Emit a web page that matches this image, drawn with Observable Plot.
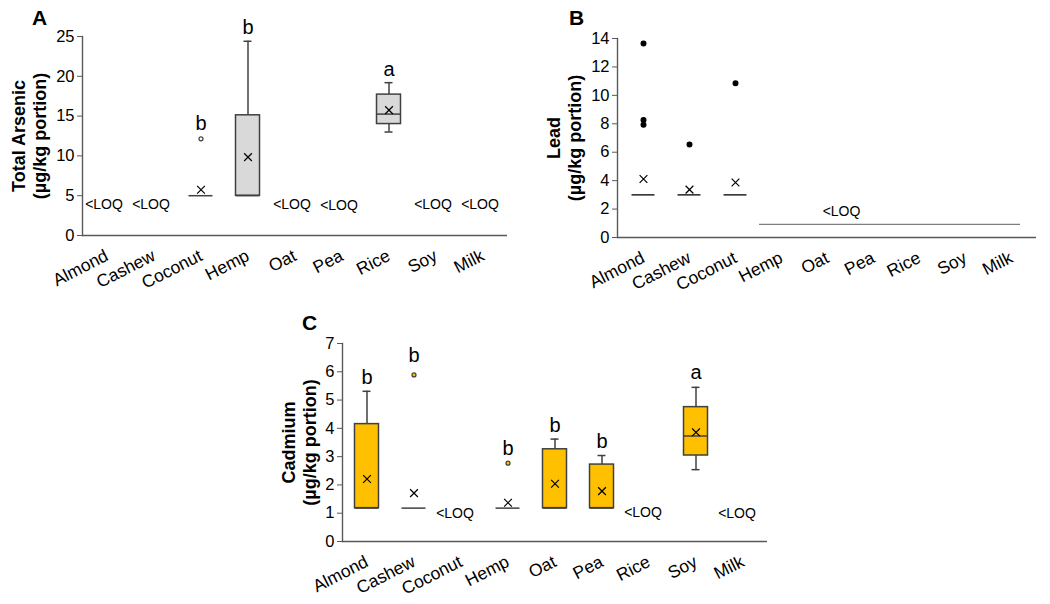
<!DOCTYPE html>
<html><head><meta charset="utf-8">
<script src="https://cdn.jsdelivr.net/npm/d3@7"></script>
<script src="https://cdn.jsdelivr.net/npm/@observablehq/plot@0.6"></script>
<style>
body{margin:0;background:#fff;}
#root{position:relative;width:1050px;height:604px;font-family:"Liberation Sans",Arial,sans-serif;overflow:hidden;}
#root svg{position:absolute;overflow:visible;}
</style></head><body><div id="root"></div>
<script>
const categories = ["Almond","Cashew","Coconut","Hemp","Oat","Pea","Rice","Soy","Milk"];

// Panel A — Total Arsenic (µg/kg portion)
const arsenicStats = [
  {cat:"Coconut", min:5,  q1:5,  median:5,     q3:5,    max:5,    mean:5.75},
  {cat:"Hemp",    min:5,  q1:5,  median:5,     q3:15.1, max:24.4, mean:9.85},
  {cat:"Rice",    min:13, q1:14, median:15.25, q3:17.7, max:19.2, mean:15.75}
];
const arsenicOutliers = [{cat:"Coconut", v:12.15}];
const arsenicLetters = [
  {cat:"Coconut", v:14.0, label:"b"},
  {cat:"Hemp",    v:26.1, label:"b"},
  {cat:"Rice",    v:20.8, label:"a"}
];
const arsenicLOQ = [
  {cat:"Almond", v:3.9},{cat:"Cashew", v:3.9},{cat:"Oat", v:3.85},
  {cat:"Pea", v:3.8},{cat:"Soy", v:3.85},{cat:"Milk", v:3.85}
];
const arsenicTicks = [0,5,10,15,20,25];

// Panel B — Lead (µg/kg portion)
const leadStats = [
  {cat:"Almond",  min:3, q1:3, median:3, q3:3, max:3, mean:4.12},
  {cat:"Cashew",  min:3, q1:3, median:3, q3:3, max:3, mean:3.37},
  {cat:"Coconut", min:3, q1:3, median:3, q3:3, max:3, mean:3.87}
];
const leadOutliers = [
  {cat:"Almond", v:13.64},{cat:"Almond", v:8.27},{cat:"Almond", v:7.93},
  {cat:"Cashew", v:6.55},{cat:"Coconut", v:10.85}
];
const leadLOQ = [{from:"Hemp", to:"Milk", mid:"Oat", v:0.92}];
const leadTicks = [0,2,4,6,8,10,12,14];

// Panel C — Cadmium (µg/kg portion)
const cadmiumStats = [
  {cat:"Almond", min:1.18, q1:1.18, median:1.18, q3:4.15, max:5.31, mean:2.21},
  {cat:"Cashew", min:1.18, q1:1.18, median:1.18, q3:1.18, max:1.18, mean:1.71},
  {cat:"Hemp",   min:1.18, q1:1.18, median:1.18, q3:1.18, max:1.18, mean:1.37},
  {cat:"Oat",    min:1.18, q1:1.18, median:1.18, q3:3.26, max:3.62, mean:2.04},
  {cat:"Pea",    min:1.18, q1:1.18, median:1.18, q3:2.72, max:3.04, mean:1.78},
  {cat:"Soy",    min:2.54, q1:3.04, median:3.73, q3:4.75, max:5.45, mean:3.86}
];
const cadmiumOutliers = [{cat:"Cashew", v:5.89},{cat:"Hemp", v:2.77}];
const cadmiumLetters = [
  {cat:"Almond", v:5.8, label:"b"},{cat:"Cashew", v:6.57, label:"b"},
  {cat:"Hemp", v:3.3, label:"b"},{cat:"Oat", v:4.1, label:"b"},
  {cat:"Pea", v:3.53, label:"b"},{cat:"Soy", v:5.98, label:"a"}
];
const cadmiumLOQ = [{cat:"Coconut", v:0.99},{cat:"Rice", v:1.02},{cat:"Milk", v:0.99}];
const cadmiumTicks = [0,1,2,3,4,5,6,7];

const AX = "#595959", BOX = "#404040";

function panel(o) {
  const boxInset = 11.5, capInset = 19.5;
  const marks = [
    Plot.frame({anchor:"left", stroke:AX, strokeWidth:1.4}),
    Plot.ruleY([0], {stroke:AX, strokeWidth:1.4}),
    Plot.axisY(o.ticks, {tickSize:5, tickPadding:3, fontSize:16.5, stroke:AX, label:null}),
    Plot.axisX({tickSize:0, tickPadding:19, tickRotate:-27, fontSize:17.5, label:null}),
    Plot.text([o.label], {frameAnchor:"left", rotate:-90, dx:o.labelDx, textAnchor:"middle",
      fontWeight:"bold", fontSize:18, lineHeight:1.16})
  ];
  const st = o.stats || [];
  marks.push(
    Plot.ruleX(st.filter(d => d.max > d.q3), {x:"cat", y1:"q3", y2:"max", stroke:BOX, strokeWidth:1.5}),
    Plot.ruleX(st.filter(d => d.min < d.q1), {x:"cat", y1:"min", y2:"q1", stroke:BOX, strokeWidth:1.5}),
    Plot.tickY(st.filter(d => d.max > d.q3), {x:"cat", y:"max", stroke:BOX, strokeWidth:1.5, insetLeft:capInset, insetRight:capInset}),
    Plot.tickY(st.filter(d => d.min < d.q1), {x:"cat", y:"min", stroke:BOX, strokeWidth:1.5, insetLeft:capInset, insetRight:capInset}),
    Plot.barY(st.filter(d => d.q3 > d.q1), {x:"cat", y1:"q1", y2:"q3", fill:o.fill, stroke:BOX, strokeWidth:1.5, insetLeft:boxInset, insetRight:boxInset}),
    Plot.tickY(st, {x:"cat", y:"median", stroke:o.medianStroke || BOX, strokeWidth:1.5, insetLeft:boxInset, insetRight:boxInset}),
    Plot.dot(st, {x:"cat", y:"mean", symbol:"times", r:3.6, stroke:"#000", strokeWidth:1.2}),
    Plot.dot(o.outliers, {x:"cat", y:"v", r:o.outlierR, fill:o.outlierFill, stroke:o.outlierStroke, strokeWidth:1.2})
  );
  if (o.letters) marks.push(Plot.text(o.letters, {x:"cat", y:"v", text:"label", fontSize:20}));
  if (o.loq) marks.push(Plot.text(o.loq, {x:"cat", y:"v", text:() => "<LOQ", fontSize:14, dx:o.loqDx}));
  if (o.loqSpan) marks.push(
    Plot.ruleY(o.loqSpan, {x1:"from", x2:"to", y:"v", stroke:"#7f7f7f", strokeWidth:1.3, insetLeft:1, insetRight:14}),
    Plot.text(o.loqSpan, {x:"mid", y:"v", text:() => "<LOQ", fontSize:14, dx:14, dy:-13})
  );
  const svg = Plot.plot({
    width:o.width, height:o.height,
    marginLeft:o.m[3], marginRight:o.m[1], marginTop:o.m[0], marginBottom:o.m[2],
    x:{type:"band", domain:categories, padding:0},
    y:{domain:[0, o.yMax]},
    style:{fontFamily:"'Liberation Sans', Arial, sans-serif", fontSize:"16px", background:"transparent", color:"#000", overflow:"visible"},
    marks
  });
  svg.style.left = o.left + "px";
  svg.style.top = o.top + "px";
  return svg;
}

const root = document.getElementById("root");
root.append(panel({
  left:0, top:0, width:520, height:300, m:[36,13,65,82], yMax:25, ticks:arsenicTicks,
  label:"Total Arsenic\n(µg/kg portion)", labelDx:-54,
  stats:arsenicStats, fill:"#d9d9d9",
  outliers:arsenicOutliers, outlierR:2, outlierFill:"#fff", outlierStroke:BOX,
  letters:arsenicLetters, loq:arsenicLOQ, loqDx:-3
}));
root.append(panel({
  left:520, top:0, width:530, height:300, m:[38,14,63,97], yMax:14, ticks:leadTicks,
  label:"Lead\n(µg/kg portion)", labelDx:-54,
  stats:leadStats, fill:"#d9d9d9", medianStroke:"#222",
  outliers:leadOutliers, outlierR:2.4, outlierFill:"#000", outlierStroke:"#000",
  loqSpan:leadLOQ
}));
root.append(panel({
  left:270, top:300, width:500, height:304, m:[43,3,63,72], yMax:7, ticks:cadmiumTicks,
  label:"Cadmium\n(µg/kg portion)", labelDx:-44,
  stats:cadmiumStats, fill:"#ffc000",
  outliers:cadmiumOutliers, outlierR:2, outlierFill:"#ffc000", outlierStroke:BOX,
  letters:cadmiumLetters, loq:cadmiumLOQ, loqDx:-6
}));

// panel letters
const panelLetters = [{t:"A", x:32, y:25},{t:"B", x:569, y:25},{t:"C", x:302, y:330}];
const ov = d3.select(root).append("svg").attr("width",1050).attr("height",604)
  .style("left","0px").style("top","0px").style("pointer-events","none");
ov.selectAll("text").data(panelLetters).join("text")
  .attr("x", d => d.x).attr("y", d => d.y).text(d => d.t)
  .attr("font-family","'Liberation Sans', Arial, sans-serif").attr("font-weight","bold").attr("font-size",21);
</script></body></html>
